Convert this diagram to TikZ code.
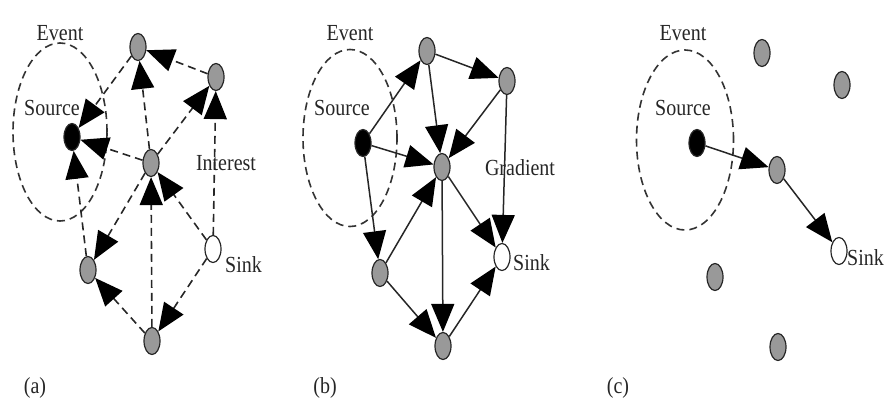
\documentclass[tikz,border=0pt]{standalone}
\usepackage{fontspec}
\setmainfont{Liberation Serif}
\usetikzlibrary{shapes.geometric,arrows.meta}
\newcommand{\vst}[1]{\scalebox{1}[1.15]{#1}}
\begin{document}
\begin{tikzpicture}[x=1pt,y=-1pt,
  sensor/.style={ellipse,draw=black!85,line width=1.2pt,fill=black!40,minimum width=16pt,minimum height=27pt,inner sep=0pt},
  srcnode/.style={sensor,fill=black},
  sinknode/.style={sensor,fill=white},
  eventell/.style={ellipse,draw=black!80,dashed,dash pattern=on 8pt off 5pt,line width=1.6pt,inner sep=0pt},
  lbl/.style={font=\fontsize{20}{22}\selectfont,text=black!85,inner sep=0pt},
  interest/.style={draw=black!85,line width=1.6pt,dash pattern=on 8pt off 5pt,-{Triangle[length=28pt,width=23pt,color=black]}},
  grad/.style={draw=black!85,line width=1.5pt,-{Triangle[length=28pt,width=23pt,color=black]}}
]
\useasboundingbox (0,0) rectangle (885,410);
% ---------- (a) ----------
\node[eventell,minimum width=94pt,minimum height=178pt] (evA) at (60,132) {};
\node[lbl] (tEvA) at (60,33) {\vst{Event}};
\node[lbl] (tSrcA) at (52,108) {\vst{Source}};
\node[srcnode] (sA) at (72,137) {};
\node[sensor] (tA) at (138,47) {};
\node[sensor] (trA) at (216,77) {};
\node[sensor] (cA) at (151,163) {};
\node[sinknode] (kA) at (213,249) {};
\node[sensor] (lA) at (88,270) {};
\node[sensor] (bA) at (152,341) {};
\node[lbl] (tIntA) at (226,163) {\vst{Interest}};
\node[lbl,anchor=west] (tSinkA) at (225,265) {\vst{Sink}};
\node[lbl] (capA) at (35,388) {\vst{(a)}};
\draw[interest] (trA) -- (tA);
\draw[interest] (cA) -- (tA);
\draw[interest] (tA) -- (sA);
\draw[interest] (cA) -- (sA);
\draw[interest] (cA) -- (trA);
\draw[interest] (kA) -- (trA);
\draw[interest] (kA) -- (cA);
\draw[interest] (bA) -- (cA);
\draw[interest] (cA) -- (lA);
\draw[interest] (bA) -- (lA);
\draw[interest] (kA) -- (bA);
\draw[interest] (lA) -- (sA);
% ---------- (b) ----------
\node[eventell,minimum width=94pt,minimum height=177pt] (evB) at (350,138) {};
\node[lbl] (tEvB) at (350,33) {\vst{Event}};
\node[lbl] (tSrcB) at (342,108) {\vst{Source}};
\node[srcnode] (sB) at (363,143) {};
\node[sensor] (tB) at (427,51) {};
\node[sensor] (trB) at (507,81) {};
\node[sensor] (cB) at (442,167) {};
\node[sinknode] (kB) at (502,257) {};
\node[sensor] (lB) at (380,273) {};
\node[sensor] (bB) at (443,346) {};
\node[lbl] (tGrB) at (520,168) {\vst{Gradient}};
\node[lbl,anchor=west] (tSinkB) at (513,263) {\vst{Sink}};
\node[lbl] (capB) at (325,388) {\vst{(b)}};
\draw[grad] (sB) -- (tB);
\draw[grad] (tB) -- (trB);
\draw[grad] (tB) -- (cB);
\draw[grad] (trB) -- (cB);
\draw[grad] (sB) -- (cB);
\draw[grad] (sB) -- (lB);
\draw[grad] (lB) -- (cB);
\draw[grad] (cB) -- (bB);
\draw[grad] (cB) -- (kB);
\draw[grad] (trB) -- (kB);
\draw[grad] (lB) -- (bB);
\draw[grad] (bB) -- (kB);
% ---------- (c) ----------
\node[eventell,minimum width=97pt,minimum height=180pt] (evC) at (685,140) {};
\node[lbl] (tEvC) at (683,33) {\vst{Event}};
\node[lbl] (tSrcC) at (683,108) {\vst{Source}};
\node[srcnode] (sC) at (697,143) {};
\node[sensor] (tC) at (762,53) {};
\node[sensor] (trC) at (842,85) {};
\node[sensor] (cC) at (777,170) {};
\node[sinknode] (kC) at (839,251) {};
\node[sensor] (lC) at (715,277) {};
\node[sensor] (bC) at (778,347) {};
\node[lbl,anchor=west] (tSinkC) at (847,258) {\vst{Sink}};
\node[lbl] (capC) at (618,388) {\vst{(c)}};
\draw[grad] (sC) -- (cC);
\draw[grad] (cC) -- (kC);
\end{tikzpicture}
\end{document}
